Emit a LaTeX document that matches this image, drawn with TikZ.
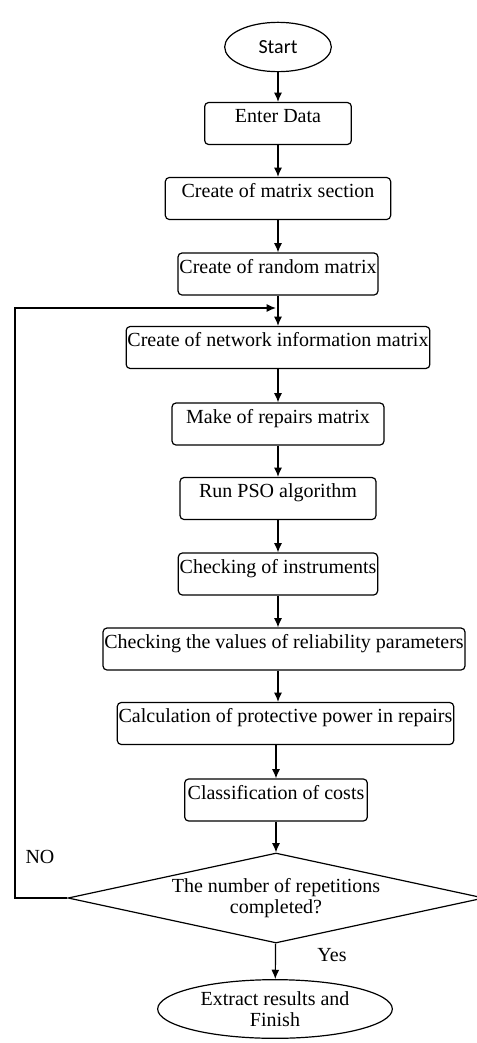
\documentclass[tikz,border=0pt]{standalone}
\usepackage{fontspec}
\setmainfont{Liberation Serif}
\newfontfamily\calfont{Carlito}
\usetikzlibrary{arrows.meta,shapes.geometric}
\tikzset{
    stepbox/.style={draw,rounded corners=3pt,line width=0.9pt,inner xsep=1pt,inner ysep=1.5pt,
        text height=13.5pt,text depth=15pt,align=center},
    terminal/.style={draw,ellipse,line width=0.9pt,inner sep=0pt,align=center},
    decision/.style={draw,diamond,aspect=4.6,line width=0.9pt,inner sep=0pt,align=center},
    flow/.style={-{Latex[length=7pt,width=6pt]},line width=0.9pt},
    tag/.style={inner sep=0pt}
}
\begin{document}
\begin{tikzpicture}[x=0.75pt,y=-0.75pt,font=\fontsize{15}{16}\selectfont]
\useasboundingbox (0,0) rectangle (476,1043);
\node[terminal,minimum width=80pt,minimum height=37pt,font=\calfont\fontsize{15}{16}\selectfont] (start) at (278,47) {Start};
\node[stepbox,minimum width=110pt] (enter) at (278,123.5) {Enter Data};
\node[stepbox,minimum width=169pt] (section) at (278,198.5) {Create of matrix section};
\node[stepbox,minimum width=150pt] (random) at (278,274) {Create of random matrix};
\node[stepbox,minimum width=223pt] (network) at (278,347.5) {Create of network information matrix};
\node[stepbox,minimum width=159pt] (repairs) at (278,424) {Make of repairs matrix};
\node[stepbox,minimum width=147pt] (pso) at (278,498.5) {Run PSO algorithm};
\node[stepbox,minimum width=147pt] (instr) at (278,574) {Checking of instruments};
\node[stepbox,minimum width=268pt] (values) at (284,649) {Checking the values of reliability parameters};
\node[stepbox,minimum width=251pt] (power) at (285.5,723.5) {Calculation of protective power in repairs};
\node[stepbox,minimum width=137pt] (costs) at (276,800) {Classification of costs};
\node[decision,minimum width=312pt,minimum height=67.5pt] (check) at (276,898) {The number of repetitions\\completed?};
\node[terminal,minimum width=176pt,minimum height=44pt] (finish) at (275,1009) {Extract results and\\Finish};
\node[tag] (no) at (40,857) {NO};
\node[tag] (yes) at (332,955) {Yes};
\coordinate (back) at (15,308);
\coordinate (join) at (276,308);

\draw[flow] (start) -- (enter);
\draw[flow] (enter) -- (section);
\draw[flow] (section) -- (random);
\draw[flow] (random) -- (network);
\draw[flow] (network) -- (repairs);
\draw[flow] (repairs) -- (pso);
\draw[flow] (pso) -- (instr);
\draw[flow] (instr.south) -- (instr.south|-values.north);
\draw[flow] (values.south-|instr.south) -- (instr.south|-power.north);
\draw[flow] (power.south-|costs.south) -- (costs);
\draw[flow] (costs) -- (check);
\draw[flow] (check) -- (finish);
\draw[flow] (check.west) -| (back) -- (join);
\end{tikzpicture}
\end{document}
